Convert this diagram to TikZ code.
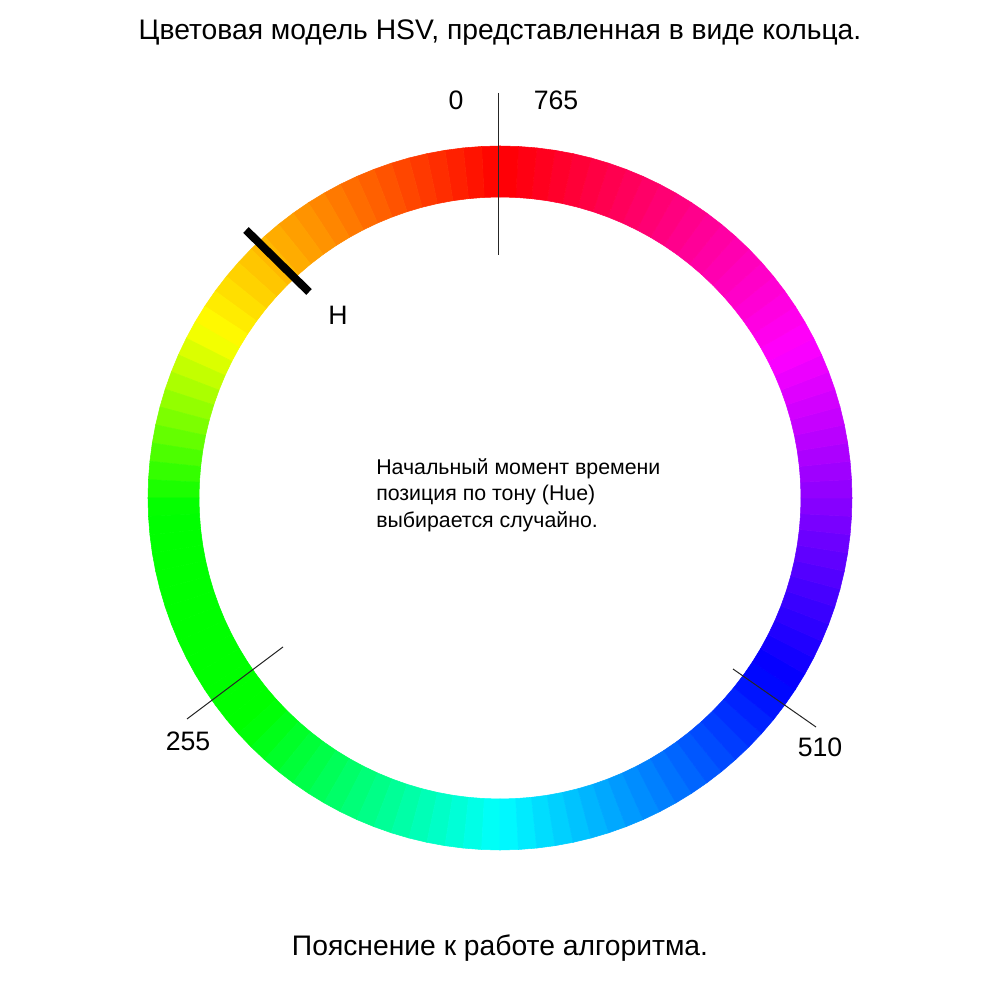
\documentclass[tikz,border=0pt]{standalone}
\usepackage{fontspec}
\setmainfont{Liberation Sans}
\usepackage{tikz}
\usetikzlibrary{calc}
\tikzset{
  lbl/.style={font=\fontsize{20}{24}\selectfont, text=black, inner sep=0pt},
  heading/.style={font=\fontsize{21.2}{25}\selectfont, text=black, inner sep=0pt},
  note/.style={font=\fontsize{16}{20}\selectfont, text=black, align=left, inner sep=0pt},
  tick/.style={draw=black!85, line width=0.75pt},
  marker/.style={draw=black, line width=6pt},
}
\begin{document}
\begin{tikzpicture}[x=0.75pt,y=0.75pt]
  \useasboundingbox (0,0) rectangle (1000,1000);
  \fill[white] (0,0) rectangle (1000,1000);
  % hue ring, counterclockwise from the top
  \begin{scope}[shift={(500,502)}]
    \foreach \i in {0,...,119}{
      \pgfmathsetmacro\a{90+3*\i}
      \pgfmathsetmacro\t{3*\i+1.5}
      \ifdim\t pt<60pt \pgfmathsetmacro\hue{\t}%
      \else\ifdim\t pt<92pt \pgfmathsetmacro\hue{60+60*(\t-60)/32}%
      \else\ifdim\t pt<132pt \def\hue{120}%
      \else\ifdim\t pt<180pt \pgfmathsetmacro\hue{120+60*(\t-132)/48}%
      \else\ifdim\t pt<237pt \pgfmathsetmacro\hue{180+60*(\t-180)/57}%
      \else\ifdim\t pt<297pt \pgfmathsetmacro\hue{240+60*(\t-237)/60}%
      \else \pgfmathsetmacro\hue{300+60*(\t-297)/63}%
      \fi\fi\fi\fi\fi\fi
      \definecolor{hsbseg}{Hsb}{\hue,1,1}
      \colorlet{seg}[rgb]{hsbseg}
      \filldraw[fill=seg, draw=seg, line width=0.4pt]
        (\a:352) -- (\a+3:352) -- (\a+3:301) -- (\a:301) -- cycle;
    }
  \end{scope}

  \node[heading] (title) at (500,967) {Цветовая модель HSV, представленная в виде кольца.};
  \node[heading] (caption) at (500,52) {Пояснение к работе алгоритма.};
  \node[note, anchor=west] (info) at (376,505) {Начальный момент времени\\позиция по тону (Hue)\\выбирается случайно.};

  \coordinate (z1) at (498,907);
  \coordinate (z2) at (498,745);
  \coordinate (g1) at (283,353);
  \coordinate (g2) at (187,281);
  \coordinate (b1) at (733,331);
  \coordinate (b2) at (816,273);
  \coordinate (h1) at (246,770);
  \coordinate (h2) at (309,708);
  \draw[tick] (z1) -- (z2);
  \draw[tick] (g1) -- (g2);
  \draw[tick] (b1) -- (b2);
  \draw[marker] (h1) -- (h2);

  \node[lbl] (v0) at (456,900) {0};
  \node[lbl] (v765) at (556,900) {765};
  \node[lbl] (hpos) at (338,685) {H};
  \node[lbl] (v255) at (188,259) {255};
  \node[lbl] (v510) at (820,253) {510};
\end{tikzpicture}
\end{document}
